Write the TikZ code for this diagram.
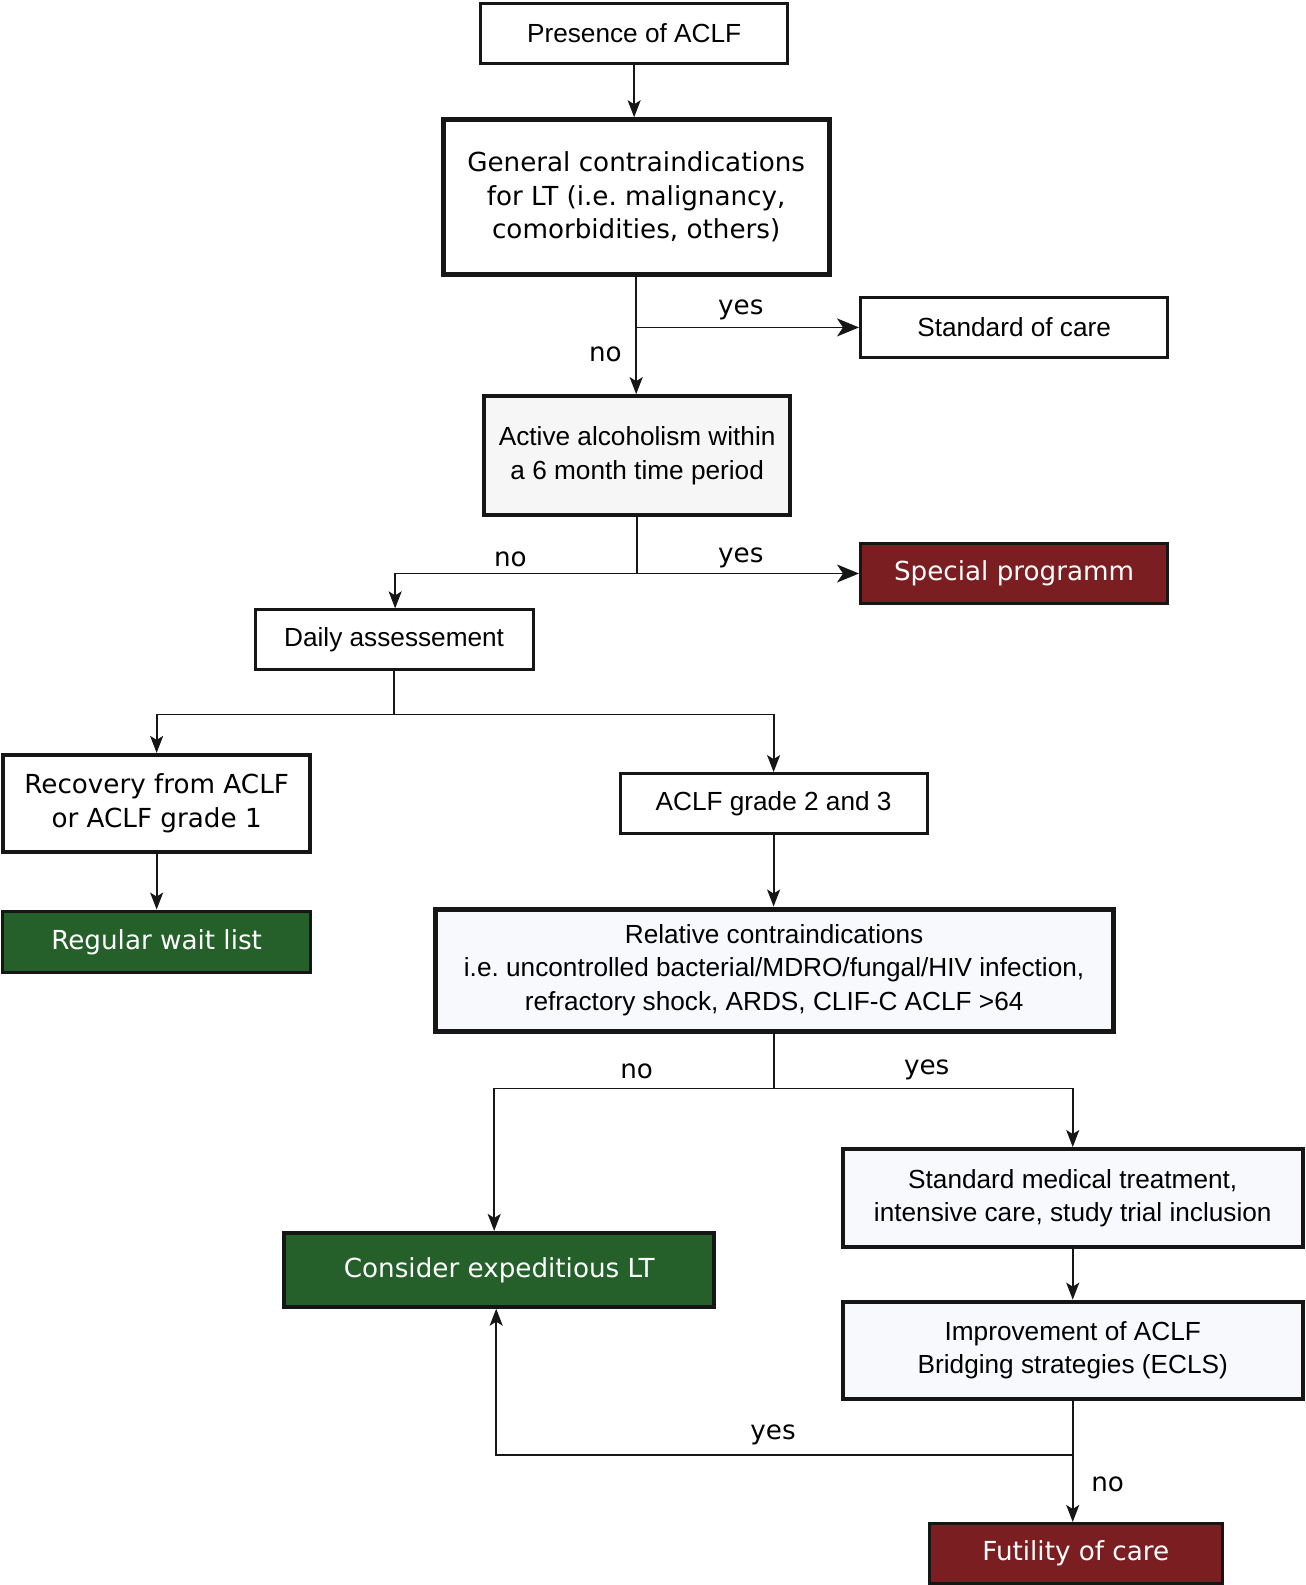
\documentclass[tikz,border=0pt]{standalone}
\usepackage{fontspec}
\setmainfont{Liberation Sans}
\newfontfamily\vfont{DejaVu Sans}
\usetikzlibrary{arrows.meta}
\definecolor{darkred}{HTML}{7B1E22}
\definecolor{darkgreen}{HTML}{25602B}
\definecolor{paleblue}{HTML}{F8F9FC}
\definecolor{palegray}{HTML}{F6F6F6}
\definecolor{edge}{HTML}{161616}
\begin{document}
\begin{tikzpicture}[x=0.5053pt,y=-0.5053pt,
  every node/.style={font=\fontsize{13.1pt}{16.7pt}\selectfont},
  box/.style 2 args={draw=edge, fill=white, rectangle, align=center, inner sep=0pt,
     minimum width=#1*0.5053pt, minimum height=#2*0.5053pt},
  thin/.style={line width=1.5pt},
  mid/.style={line width=2pt},
  thick/.style={line width=2.5pt},
  vbox/.style={font=\vfont\fontsize{13.1pt}{16.7pt}\selectfont},
  redbox/.style={fill=darkred, text=white, vbox},
  greenbox/.style={fill=darkgreen, text=white, vbox},
  conn/.style={line width=0.9pt, draw=edge},
  arr/.style={conn, -{Stealth[length=8.5pt,width=6.5pt,inset=2pt]}},
  bigarr/.style={conn, -{Stealth[length=11pt,width=9pt,inset=3pt]}},
  lbl/.style={font=\vfont\fontsize{13.1pt}{16.7pt}\selectfont, inner sep=0pt}
]
\useasboundingbox (0,0) rectangle (1291.4,1568.4);

\node[box={304}{59}, thin] (pres) at (627.5,33) {Presence of ACLF};
\node[box={382}{153}, thick, vbox] (gen) at (629.5,195)
  {General contraindications\\for LT (i.e.\ malignancy,\\comorbidities, others)};
\node[box={304}{59}, thin] (soc) at (1003.5,324) {Standard of care};
\node[box={303}{118}, mid, fill=palegray] (alc) at (630.5,451)
  {Active alcoholism within\\a 6 month time period};
\node[box={304}{60}, thin, redbox] (spec) at (1003.5,567.5) {Special programm};
\node[box={275}{59}, thin] (daily) at (390,633) {Daily assessement};
\node[box={304}{96}, mid, vbox] (rec) at (155,795) {Recovery from ACLF\\or ACLF grade 1};
\node[box={304}{59}, thin] (g23) at (765.5,795) {ACLF grade 2 and 3};
\node[box={305}{61}, thin, greenbox] (wait) at (155,932) {Regular wait list};
\node[box={671}{121}, thick, fill=paleblue] (rel) at (766,960)
  {Relative contraindications\\i.e.\ uncontrolled bacterial/MDRO/fungal/HIV infection,\\refractory shock, ARDS, CLIF-C ACLF >64};
\node[box={455}{97}, mid, fill=paleblue] (smt) at (1061.5,1185.5)
  {Standard medical treatment,\\intensive care, study trial inclusion};
\node[box={426}{73}, mid, greenbox] (cons) at (494,1256.5) {Consider expeditious LT};
\node[box={455}{96}, mid, fill=paleblue] (imp) at (1061.5,1336)
  {Improvement of ACLF\\Bridging strategies (ECLS)};
\node[box={290}{59}, thin, redbox] (fut) at (1064.5,1537) {Futility of care};

% connectors
\draw[arr] (pres.south) -- (pres.south |- gen.north);

\coordinate (j1) at (629.5,324);
\draw[arr] (gen.south) -- (gen.south |- alc.north);
\draw[bigarr] (j1) -- (j1 -| soc.west);
\node[lbl] (y1) at (733,307) {yes};
\node[lbl] (n1) at (599,351) {no};

\coordinate (j2) at (630.5,567.5);
\coordinate (c0) at (391,567.5);
\draw[conn] (alc.south) -- (j2);
\draw[bigarr] (j2) -- (j2 -| spec.west);
\draw[arr] (j2) -- (c0) -- (c0 |- daily.north);
\node[lbl] (n2) at (505,553) {no};
\node[lbl] (y2) at (733,552) {yes};

\coordinate (j3) at (390,707);
\draw[conn] (daily.south) -- (j3);
\draw[arr] (j3) -| (rec.north);
\draw[arr] (j3) -| (g23.north);

\draw[arr] (rec.south) -- (rec.south |- wait.north);
\draw[arr] (g23.south) -- (g23.south |- rel.north);

\coordinate (j4) at (766,1077);
\coordinate (c1) at (489,1077);
\draw[conn] (rel.south) -- (j4);
\draw[arr] (j4) -- (c1) -- (c1 |- cons.north);
\draw[arr] (j4) -| (smt.north);
\node[lbl] (n3) at (630,1060) {no};
\node[lbl] (y3) at (917,1059) {yes};

\draw[arr] (smt.south) -- (smt.south |- imp.north);

\coordinate (j5) at (1061.5,1440);
\coordinate (c2) at (491,1440);
\draw[arr] (imp.south) -- (imp.south |- fut.north);
\draw[arr] (j5) -- (c2) -- (c2 |- cons.south);
\node[lbl] (y4) at (765,1420) {yes};
\node[lbl] (n4) at (1096,1469) {no};
\end{tikzpicture}
\end{document}
